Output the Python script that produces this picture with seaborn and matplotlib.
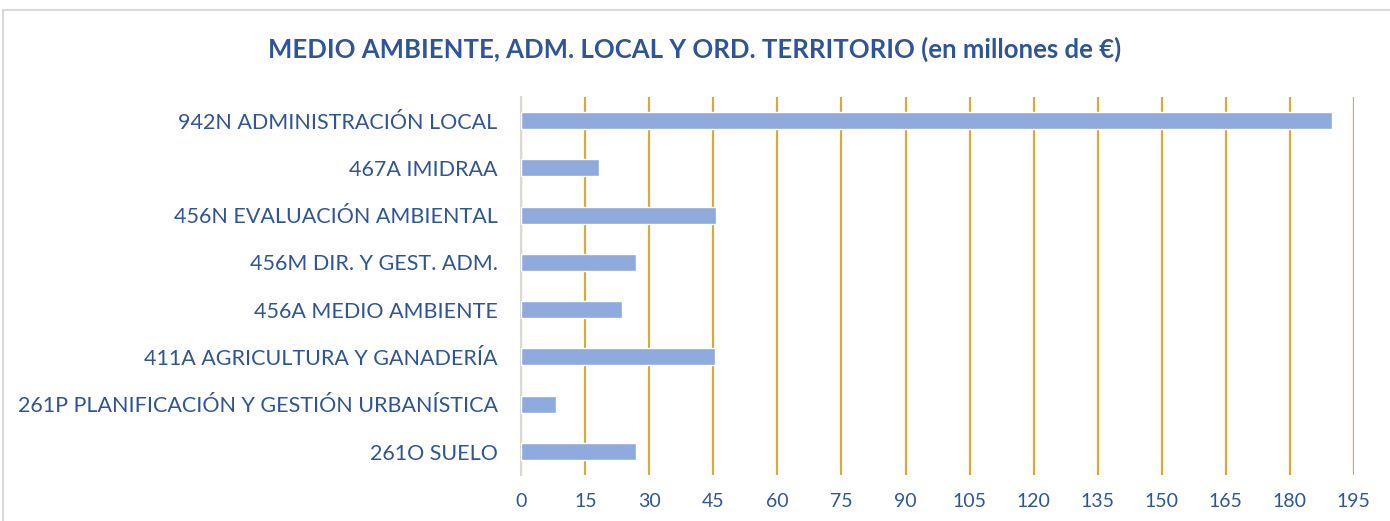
import matplotlib
matplotlib.use('Agg')
import matplotlib.pyplot as plt
import seaborn as sns
import pandas as pd
from matplotlib.patches import Rectangle

programas = ['942N ADMINISTRACIÓN LOCAL', '467A IMIDRAA', '456N EVALUACIÓN AMBIENTAL',
             '456M DIR. Y GEST. ADM.', '456A MEDIO AMBIENTE', '411A AGRICULTURA Y GANADERÍA',
             '261P PLANIFICACIÓN Y GESTIÓN URBANÍSTICA', '261O SUELO']
importes = [189.8, 18.1, 45.7, 26.8, 23.5, 45.4, 8.2, 26.8]
ticks = list(range(0, 196, 15))

df = pd.DataFrame({'programa': programas, 'importe': importes})

sns.set_style('white')
plt.rcParams['font.family'] = ['Lato', 'DejaVu Sans']

text_col = '#2F5597'
grid_col = '#D6AC33'

fig = plt.figure(figsize=(13.9, 5.21), dpi=100)
ax = fig.add_axes([0.375, 0.088, 0.599, 0.726])

sns.barplot(data=df, x='importe', y='programa', orient='h', color='#8FAADC',
            saturation=1, width=0.36, ax=ax, zorder=3)

ax.set_xlim(0, 195)
ax.set_ylim(7.5, -0.5)
ax.set_xticks(ticks)
ax.grid(axis='x', color=grid_col, linewidth=1.6, zorder=0)
ax.set_axisbelow(True)
for s in ['top', 'right', 'bottom']:
    ax.spines[s].set_visible(False)
ax.spines['left'].set_color('#D9D9D9')
ax.spines['left'].set_linewidth(1.5)
ax.set_xlabel('')
ax.set_ylabel('')
ax.tick_params(axis='x', colors=grid_col, length=0, labelcolor=text_col, labelsize=14, pad=13)
ax.tick_params(axis='y', length=0, labelcolor=text_col, labelsize=15.5, pad=17)

fig.text(0.5, 0.905, 'MEDIO AMBIENTE, ADM. LOCAL Y ORD. TERRITORIO (en millones de €)',
         ha='center', va='center', fontsize=18.5, fontweight='bold', color=text_col)

fig.patches.append(Rectangle((0.002, -0.01), 1.1, 0.99, transform=fig.transFigure,
                             fill=False, edgecolor='#D9D9D9', linewidth=1.5))

fig.savefig('out.png', dpi=100)
